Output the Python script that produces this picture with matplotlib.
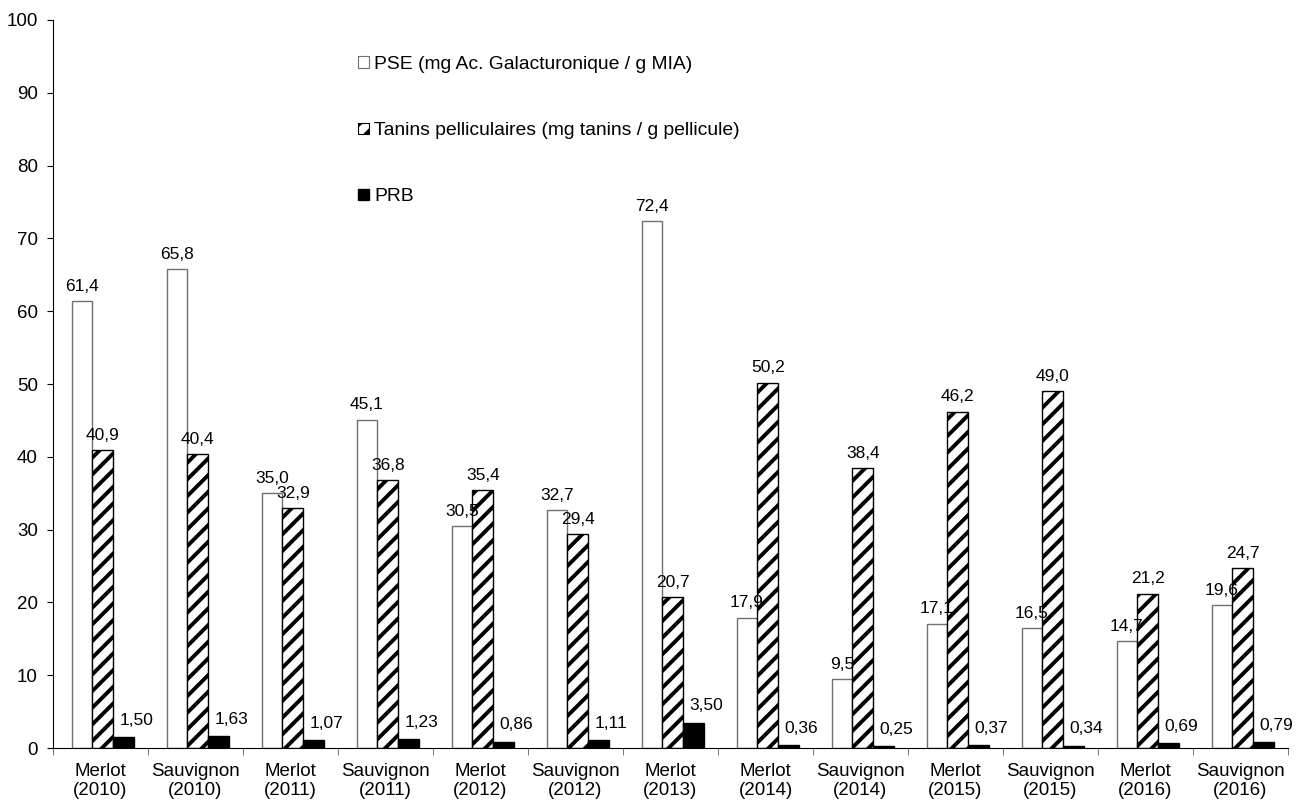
import matplotlib.pyplot as plt
import numpy as np
from matplotlib.patches import Patch

plt.rcParams["font.family"] = ["Liberation Sans", "DejaVu Sans"]
plt.rcParams["hatch.linewidth"] = 2.8

categories = ["Merlot\n(2010)", "Sauvignon\n(2010)", "Merlot\n(2011)", "Sauvignon\n(2011)",
              "Merlot\n(2012)", "Sauvignon\n(2012)", "Merlot\n(2013)", "Merlot\n(2014)",
              "Sauvignon\n(2014)", "Merlot\n(2015)", "Sauvignon\n(2015)", "Merlot\n(2016)",
              "Sauvignon\n(2016)"]
pse = [61.4, 65.8, 35.0, 45.1, 30.5, 32.7, 72.4, 17.9, 9.5, 17.1, 16.5, 14.7, 19.6]
tanins = [40.9, 40.4, 32.9, 36.8, 35.4, 29.4, 20.7, 50.2, 38.4, 46.2, 49.0, 21.2, 24.7]
prb = [1.50, 1.63, 1.07, 1.23, 0.86, 1.11, 3.50, 0.36, 0.25, 0.37, 0.34, 0.69, 0.79]

labels = ["PSE (mg Ac. Galacturonique / g MIA)",
          "Tanins pelliculaires (mg tanins / g pellicule)",
          "PRB"]


def fr(v, nd):
    return f"{v:.{nd}f}".replace(".", ",")


fig = plt.figure(figsize=(13.09, 8.05), dpi=100)
ax = fig.add_axes([53 / 1309, 57 / 805, 1235 / 1309, 728 / 805])

x = np.arange(len(categories)) + 0.025
w = 0.22
ax.bar(x - w, pse, w, color="white", edgecolor="#707070", lw=1.0)
ax.bar(x, tanins, w, color="white", edgecolor="black", hatch="//", lw=1.0)
ax.bar(x + w, prb, w, color="black", edgecolor="black", lw=1.0)

fs = 12.5
for i in range(len(categories)):
    ax.text(x[i] - w, pse[i] + 1.0, fr(pse[i], 1), ha="center", va="bottom", fontsize=fs)
    ax.text(x[i], tanins[i] + 1.0, fr(tanins[i], 1), ha="center", va="bottom", fontsize=fs)
    ax.text(x[i] + w + 0.13, prb[i] + 2.3, fr(prb[i], 2), ha="center", va="center", fontsize=fs)

ax.set_xlim(-0.5, len(categories) - 0.5)
ax.set_ylim(0, 100)
ax.set_yticks(np.arange(0, 101, 10))
ax.set_xticks(np.arange(len(categories)))
ax.set_xticklabels(categories, fontsize=13.5, linespacing=1.15)
ax.set_xticks(np.arange(-0.5, len(categories), 1), minor=True)
ax.tick_params(axis="x", which="major", length=0, pad=11)
ax.tick_params(axis="x", which="minor", length=5, direction="out", color="#606060")
ax.tick_params(axis="y", length=4, direction="out", labelsize=13.5, pad=7)
for s in ("top", "right"):
    ax.spines[s].set_visible(False)

handles = [Patch(facecolor="white", edgecolor="#707070", lw=0.8),
           Patch(facecolor="white", edgecolor="black", hatch="//", lw=0.8),
           Patch(facecolor="black", edgecolor="black")]
fig.legend(handles, labels, loc="upper left", bbox_to_anchor=(358 / 1309, 1 - 56 / 805),
           frameon=False, fontsize=13.9, handlelength=0.55, handleheight=0.55,
           handletextpad=0.3, labelspacing=2.55, borderpad=0, borderaxespad=0)

fig.savefig("out.png", dpi=100)
